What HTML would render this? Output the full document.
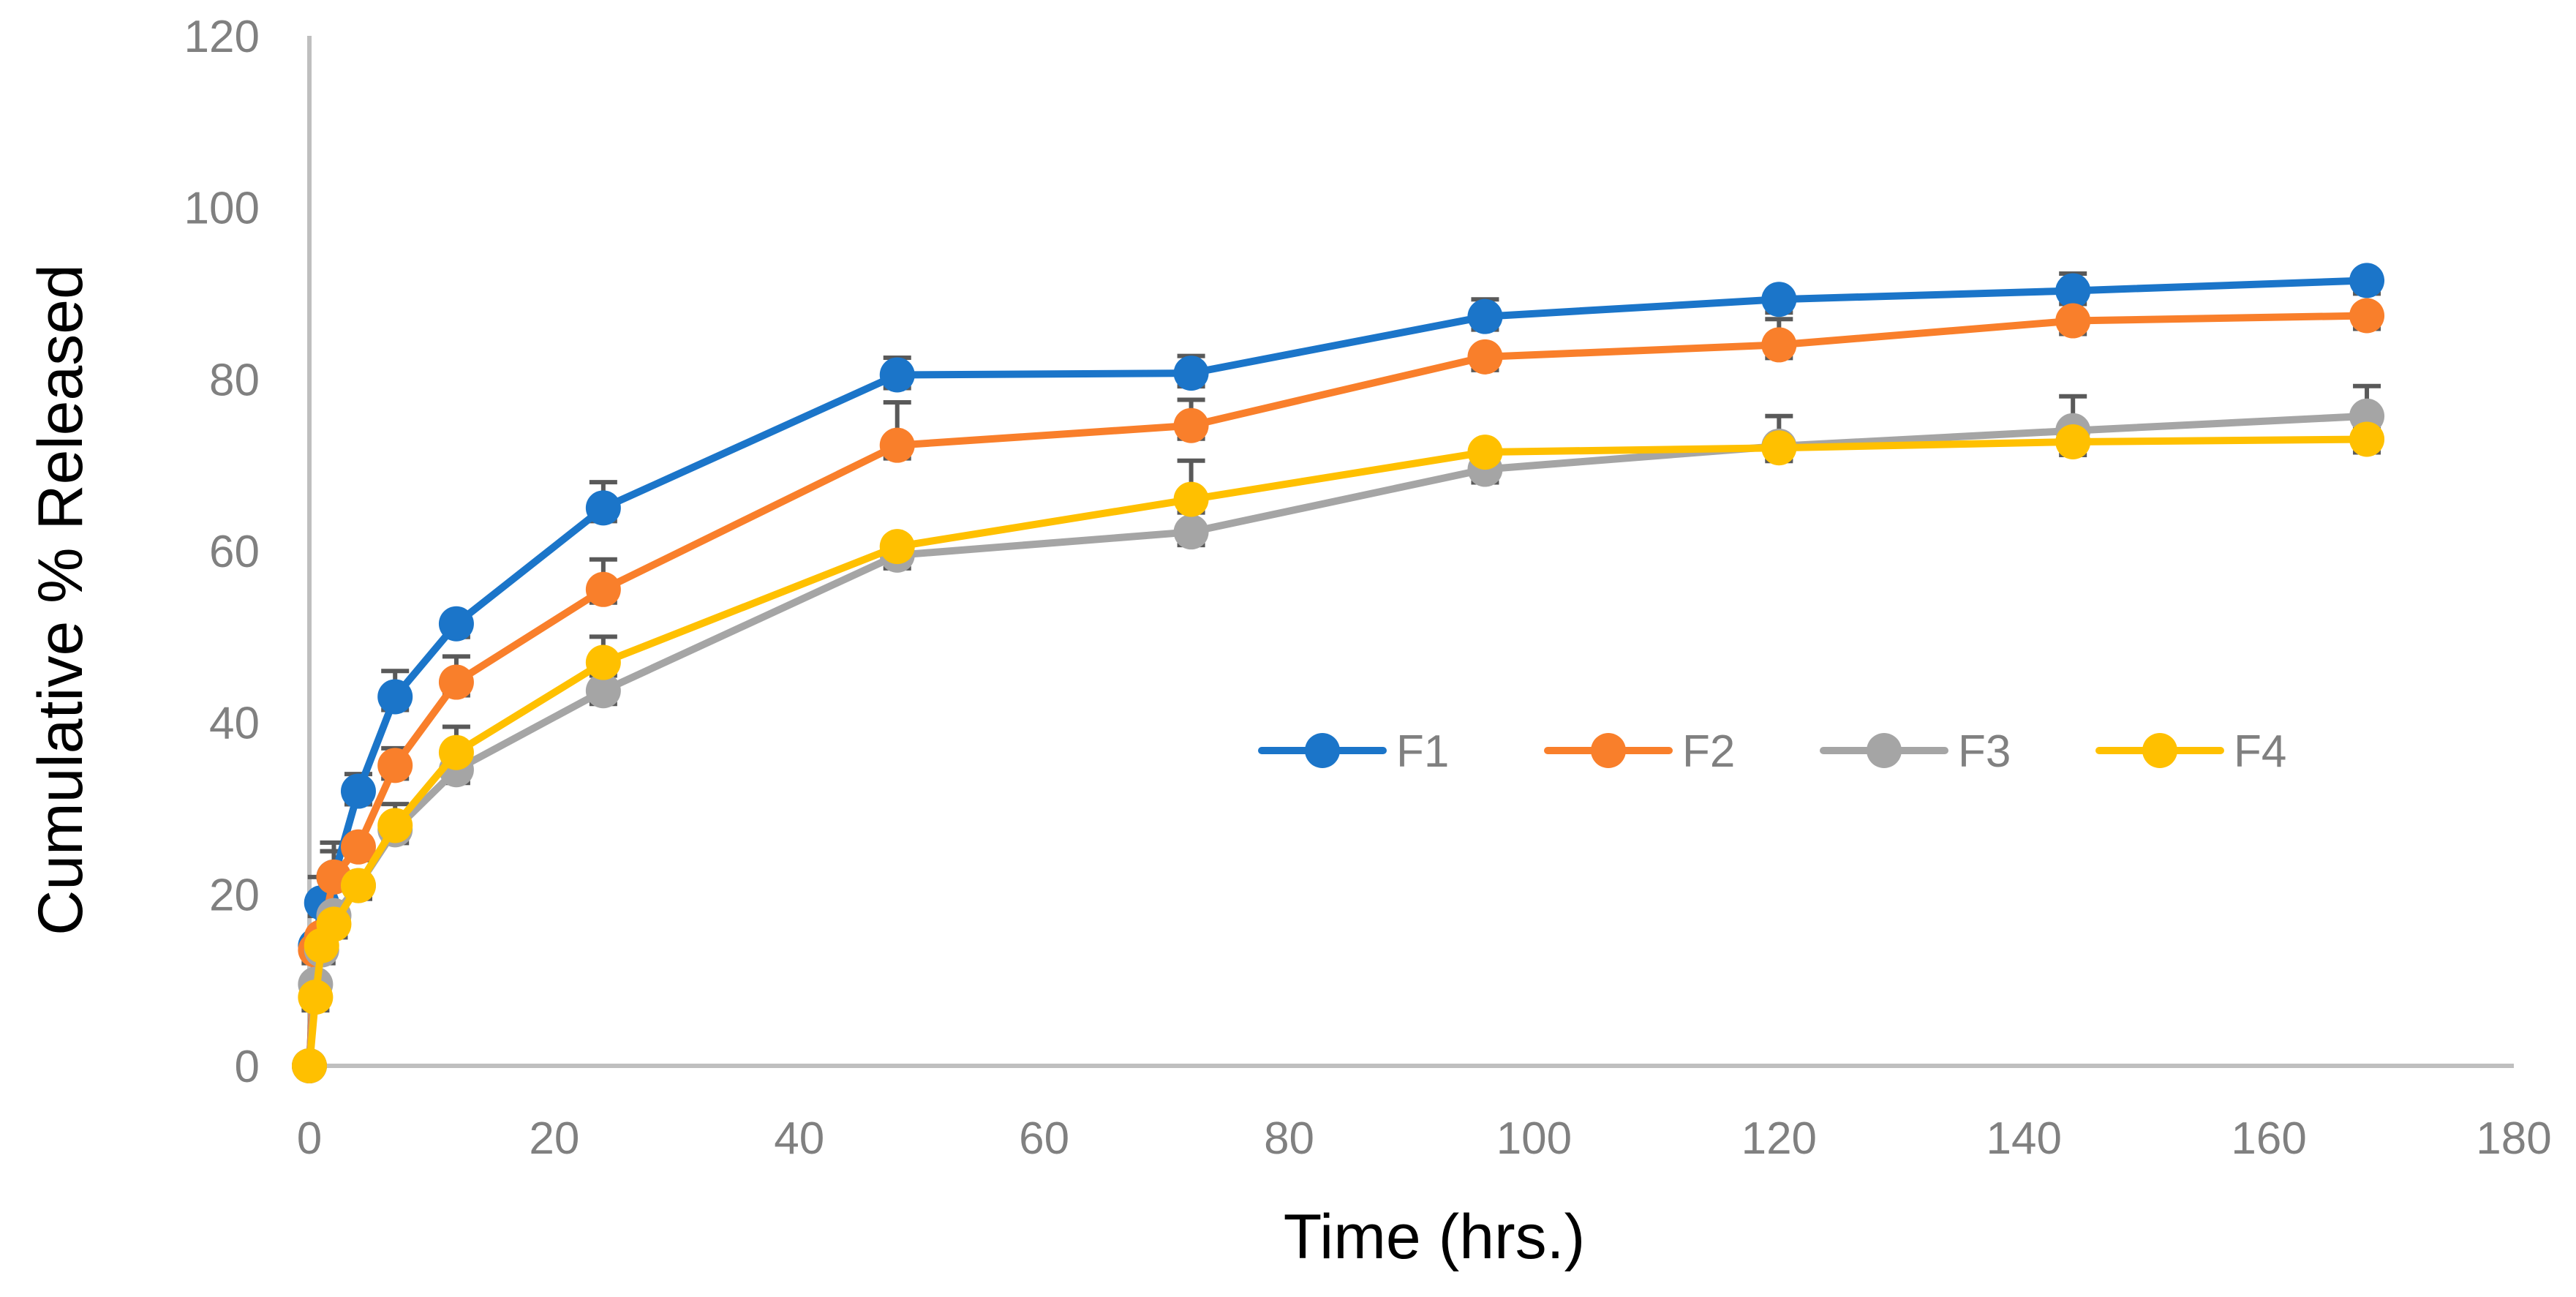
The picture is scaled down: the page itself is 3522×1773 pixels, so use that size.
<!DOCTYPE html>
<html><head><meta charset="utf-8"><style>
html,body{margin:0;padding:0;background:#fff;}
svg{display:block;}
</style></head><body>
<svg id="chart" width="3522" height="1773" viewBox="0 0 3522 1773" xmlns="http://www.w3.org/2000/svg">
<rect width="3522" height="1773" fill="#fff"/>
<g id="axes"></g>
<g id="plot"></g>
<g id="legend"></g>
<text x="1961" y="1720" font-family="'Liberation Sans Narrow','Liberation Sans',sans-serif" font-size="86" fill="#000" text-anchor="middle">Time (hrs.)</text>
<text transform="translate(112,820) rotate(-90)" font-family="'Liberation Sans Narrow','Liberation Sans',sans-serif" font-size="86" fill="#000" text-anchor="middle">Cumulative % Released</text>
</svg>
<script>
const times = [0, 0.5, 1, 2, 4, 7, 12, 24, 48, 72, 96, 120, 144, 168];
const seriesNames = ["F1", "F2", "F3", "F4"];
const f1 = [0, 14, 19, 22, 32, 43, 51.5, 65, 80.5, 80.7, 87.3, 89.3, 90.3, 91.5];
const f2 = [0, 13.5, 15, 22, 25.5, 35, 44.7, 55.5, 72.3, 74.6, 82.6, 84, 86.8, 87.4];
const f3 = [0, 9.5, 13.5, 17.5, 21, 27.5, 34.5, 43.7, 59.5, 62.2, 69.5, 72.2, 74, 75.7];
const f4 = [0, 8, 14, 16.5, 21, 28, 36.5, 47, 60.5, 66, 71.5, 72, 72.7, 73];
const e1 = [0, 1, 3, 3, 2, 3, 1, 3, 2, 2, 2, 1, 2, 1];
const e2 = [0, 1, 1, 4, 1, 2, 3, 3.5, 5, 3, 1, 3, 1, 1];
const e3 = [0, 1, 1, 1, 1, 3, 5, 1, 2, 1, 1, 3.5, 4, 3.5];
const e4 = [0, 1, 1, 1, 1, 1, 1, 3, 1, 4.5, 1, 0.5, 1, 1];
const xTicks = [0, 20, 40, 60, 80, 100, 120, 140, 160, 180];
const yTicks = [0, 20, 40, 60, 80, 100, 120];

const colors = ["#1B75C9", "#F97F2B", "#A5A5A5", "#FFC000"];
const X0 = 423, X1 = 3437, Y0 = 1457, Y1 = 49;
const xs = v => X0 + (v - 0) / 180 * (X1 - X0);
const ys = v => Y0 - v / 120 * (Y0 - Y1);
const NS = "http://www.w3.org/2000/svg";
function mk(tag, attrs, parent) {
  const el = document.createElementNS(NS, tag);
  for (const k in attrs) el.setAttribute(k, attrs[k]);
  parent.appendChild(el);
  return el;
}
const axes = document.getElementById('axes');
const plot = document.getElementById('plot');
const legend = document.getElementById('legend');
const font = "'Liberation Sans Narrow','Liberation Sans',sans-serif";

let ax = mk('line', {x1: X0, y1: Y0, x2: X1, y2: Y0, stroke: '#BFBFBF', 'stroke-width': 6}, axes);


let ay = mk('line', {x1: X0, y1: Y0, x2: X0, y2: Y1, stroke: '#BFBFBF', 'stroke-width': 6}, axes);



xTicks.forEach(t => {
  const el = mk('text', {x: xs(t), y: 1577, 'font-family': font, 'font-size': 62, fill: '#808080', 'text-anchor': 'middle'}, axes);
  el.textContent = t;
  
  
});
yTicks.forEach(t => {
  const el = mk('text', {x: 355, y: ys(t) + 22, 'font-family': font, 'font-size': 62, fill: '#808080', 'text-anchor': 'end'}, axes);
  el.textContent = t;
  
  
});

const data = [f1, f2, f3, f4];
const errs = [e1, e2, e3, e4];
data.forEach((s, si) => {
  const g = mk('g', {}, plot);
  
  
  s.forEach((v, i) => {
    const e = errs[si][i];
    if (i === 0) return;
    const x = xs(times[i]);
    const yt = ys(v + e), yb = ys(v) + 18;
    const b = mk('path', {d: `M${x},${ys(v)}V${yt}M${x-19},${yt}H${x+19}M${x-19},${yb}H${x+19}`, stroke: '#595959', 'stroke-width': 6, fill: 'none'}, g);
    
    
  });
});
data.forEach((s, si) => {
  const g = mk('g', {}, plot);
  
  
  const d = s.map((v, i) => (i ? 'L' : 'M') + xs(times[i]) + ',' + ys(v)).join('');
  const ln = mk('path', {d: d, stroke: colors[si], 'stroke-width': 10, fill: 'none', 'stroke-linejoin': 'round'}, g);
  
  
  s.forEach((v, i) => {
    const c = mk('circle', {cx: xs(times[i]), cy: ys(v), r: 24, fill: colors[si]}, g);
    
    
  });
});

const legX = [1725, 2116, 2493, 2870];
seriesNames.forEach((n, i) => {
  const g = mk('g', {}, legend);
  
  
  const y = 1026, x = legX[i];
  mk('line', {x1: x, y1: y, x2: x + 166, y2: y, stroke: colors[i], 'stroke-width': 10, 'stroke-linecap': 'round'}, g);
  mk('circle', {cx: x + 83, cy: y, r: 24, fill: colors[i]}, g);
  const t = mk('text', {x: x + 184, y: y + 22, 'font-family': font, 'font-size': 62, fill: '#808080'}, g);
  t.textContent = n;
});
</script>
</body></html>
